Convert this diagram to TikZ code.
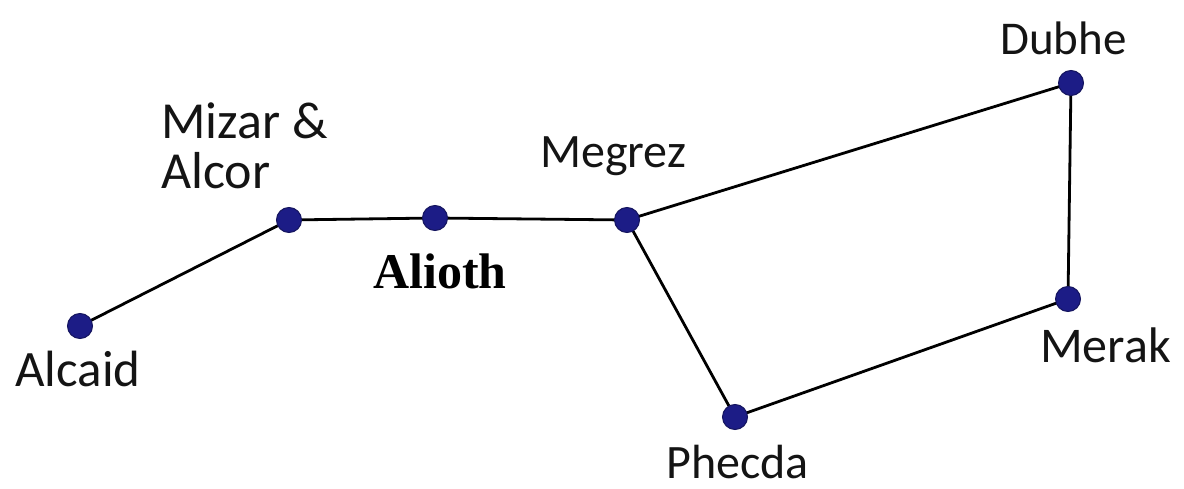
\documentclass[tikz,border=0pt]{standalone}
\usepackage{fontspec}
\setmainfont{Carlito}
\newfontfamily\serifbold{Liberation Serif}
\usetikzlibrary{backgrounds}
\definecolor{starblue}{HTML}{1C1C86}
\definecolor{ink}{HTML}{141414}
\newcommand{\labelsize}[1]{\fontsize{#1}{50}\selectfont}
\begin{document}
\begin{tikzpicture}[x=1pt,y=-1pt,
  star/.style={circle,fill=starblue,draw=starblue!70!black,line width=1pt,minimum size=25pt,inner sep=0pt},
  link/.style={draw=black,line width=2.8pt},
  starname/.style={anchor=base west,inner sep=0pt,text=ink,font=\labelsize{48}}]
\useasboundingbox (0,0) rectangle (1184,489);
% stars of the Big Dipper
\node[star] (alcaid) at (80,326) {};
\node[star] (mizar)  at (289,220) {};
\node[star] (alioth) at (435,218) {};
\node[star] (megrez) at (627,220) {};
\node[star] (dubhe)  at (1071,83) {};
\node[star] (merak)  at (1068,299) {};
\node[star] (phecda) at (735,417) {};
% asterism lines, kept behind the stars
\begin{scope}[on background layer]
\draw[link] (alcaid.center) -- (mizar.center) -- (alioth.center) -- (megrez.center)
  -- (dubhe.center) -- (merak.center) -- (phecda.center) -- (megrez.center);
\end{scope}
% star names
\node[starname,font=\labelsize{52}] (lmizar) at (161,139) {Mizar \&};
\node[starname,font=\labelsize{52}] (lalcor) at (161,189) {Alcor};
\node[starname] (lmegrez) at (540,168) {Megrez};
\node[starname,font=\labelsize{47}] (ldubhe) at (1000,55) {Dubhe};
\node[starname,font=\labelsize{50}] (lmerak) at (1040,362) {Merak};
\node[starname,text depth=0pt] (lphecda) at (666,478) {Phecda};
\node[starname,font=\labelsize{51}] (lalcaid) at (15,386) {Alcaid};
\node[starname,font=\serifbold\bfseries\fontsize{50}{50}\selectfont,text=black] (lalioth) at (373,288) {Alioth};
\end{tikzpicture}
\end{document}
